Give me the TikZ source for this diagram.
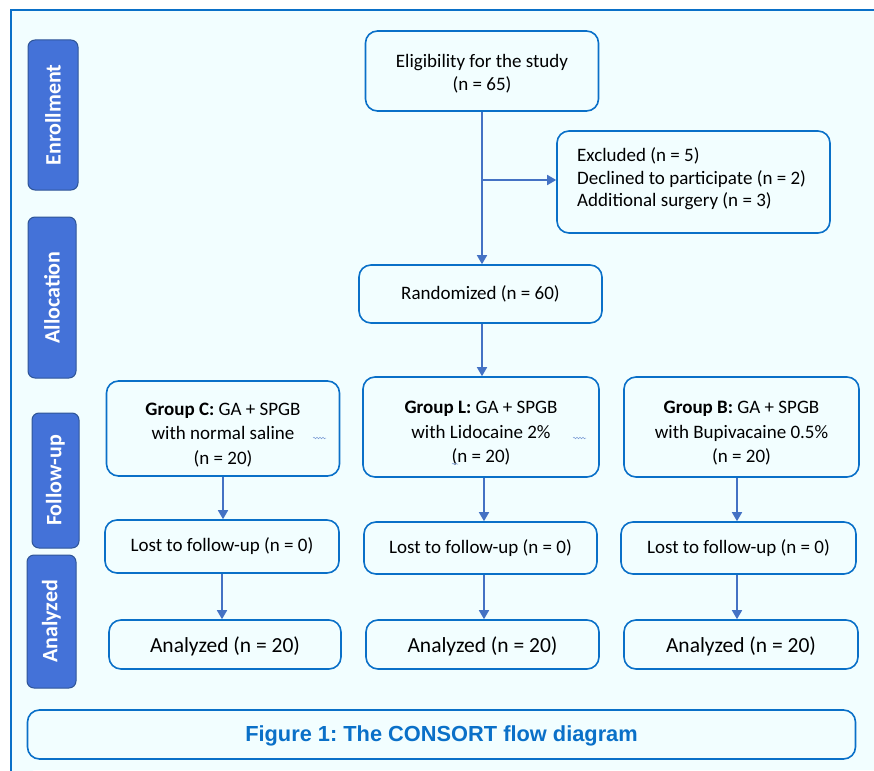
\documentclass[tikz,border=0pt]{standalone}
\usepackage{fontspec}
\setmainfont{Carlito}
\newfontfamily\capfont{Liberation Sans}
\usetikzlibrary{arrows.meta,decorations.pathmorphing}
\definecolor{bgc}{HTML}{F2FEFF}
\definecolor{frame}{HTML}{0A70C8}
\definecolor{boxc}{HTML}{0A70C8}
\definecolor{arr}{HTML}{4472C4}
\definecolor{side}{HTML}{4472D8}
\definecolor{sideb}{HTML}{2F5597}
\newcommand\mynudge[1]{\rule{0pt}{#1}}
\begin{document}
\begin{tikzpicture}[x=1pt,y=-1pt,
  box/.style={draw=boxc,line width=1.6pt,rounded corners=12pt,fill=bgc,align=center,inner sep=0pt,font=\fontsize{19}{23}\selectfont},
  sidebox/.style={draw=sideb,line width=1pt,rounded corners=7pt,fill=side,inner sep=0pt},
  sidetext/.style={rotate=90,text=white,font=\bfseries\fontsize{22}{24}\selectfont},
  conn/.style={draw=arr,line width=1.6pt,-{Triangle[length=9pt,width=10pt]}},
  wav/.style={draw=arr!70,line width=0.5pt,decorate,decoration={snake,amplitude=0.8pt,segment length=3pt}}]
\frenchspacing
\useasboundingbox (0,0) rectangle (874,770);
\fill[white] (0,0) rectangle (874,770);
\filldraw[fill=bgc,draw=frame,line width=2pt] (11,790) -- (11,10) -- (890,10);
\fill[bgc] (12,11) rectangle (874,770);
% side labels
\node[sidebox,minimum width=50pt,minimum height=150pt] (s1) at (53,115) {};
\node[sidetext] (s1t) at (s1.center) {Enrollment};
\node[sidebox,minimum width=48pt,minimum height=161pt] (s2) at (52,297.5) {};
\node[sidetext] (s2t) at (s2.center) {Allocation};
\node[sidebox,minimum width=47pt,minimum height=135pt] (s3) at (55.5,480.5) {};
\node[sidetext] (s3t) at (s3.center) {Follow-up};
\node[sidebox,minimum width=49pt,minimum height=133pt] (s4) at (51.5,621.5) {};
\node[sidetext] (s4t) at (s4.center) {Analyzed};
% main boxes
\node[box,minimum width=233pt,minimum height=80pt] (elig) at (482,71) {\mynudge{19pt}Eligibility for the study\\(n = 65)};
\node[box,minimum width=273pt,minimum height=102pt] (excl) at (693.5,182) {};
\node[align=left,anchor=west,inner sep=0pt,font=\fontsize{19}{22.5}\selectfont] (exclt) at (577,179) {Excluded (n = 5)\\Declined to participate (n = 2)\\Additional surgery (n = 3)};
\node[box,minimum width=243pt,minimum height=58pt] (rand) at (480.5,294) {Randomized (n = 60)};
\node[box,minimum width=233pt,minimum height=95pt,font=\fontsize{19}{24.5}\selectfont] (gc) at (223,428.5) {\mynudge{25pt}\textbf{Group C:} GA + SPGB\\with normal saline\\(n = 20)};
\node[box,minimum width=236pt,minimum height=100pt,font=\fontsize{19}{24.5}\selectfont] (gl) at (481,427) {\mynudge{25pt}\textbf{Group L:} GA + SPGB\\with Lidocaine 2\%\\(n = 20)};
\node[box,minimum width=235pt,minimum height=100pt,font=\fontsize{19}{24.5}\selectfont] (gb) at (741.5,427) {\mynudge{25pt}\textbf{Group B:} GA + SPGB\\with Bupivacaine 0.5\%\\(n = 20)};
\node[box,minimum width=234pt,minimum height=53pt] (lc) at (222,546.5) {Lost to follow-up (n = 0)};
\node[box,minimum width=233pt,minimum height=52pt] (ll) at (480.5,548) {Lost to follow-up (n = 0)};
\node[box,minimum width=235pt,minimum height=52pt] (lb) at (738.5,548) {Lost to follow-up (n = 0)};
\node[box,minimum width=232pt,minimum height=49pt,font=\fontsize{21.5}{24}\selectfont] (ac) at (225,644.5) {\mynudge{19pt}Analyzed (n = 20)};
\node[box,minimum width=233pt,minimum height=49pt,font=\fontsize{21.5}{24}\selectfont] (al) at (482.5,644.5) {\mynudge{19pt}Analyzed (n = 20)};
\node[box,minimum width=234pt,minimum height=49pt,font=\fontsize{21.5}{24}\selectfont] (ab) at (741,644.5) {\mynudge{19pt}Analyzed (n = 20)};
\node[box,minimum width=828pt,minimum height=49pt,text=boxc,font=\capfont\bfseries\fontsize{21.8}{24}\selectfont] (cap) at (441.5,734.5) {\mynudge{19pt}Figure 1: The CONSORT flow diagram};
% connectors
\coordinate (br) at (482,180);
\draw[conn] (elig.south) -- (rand.north -| elig.south);
\draw[conn] (br) -- (br -| excl.west);
\draw[conn] (rand.south -| elig.south) -- (gl.north -| elig.south);
\draw[conn] (gc.south) -- (lc.north -| gc.south);
\draw[conn] (lc.south) -- (ac.north -| lc.south);
\coordinate (xl) at (484,0);
\draw[conn] (gl.south -| xl) -- (ll.north -| xl);
\draw[conn] (ll.south -| xl) -- (al.north -| xl);
\coordinate (xb) at (737,0);
\draw[conn] (gb.south -| xb) -- (lb.north -| xb);
\draw[conn] (lb.south -| xb) -- (ab.north -| xb);
% spell-check squiggles
\coordinate (w1) at (313,438); \coordinate (w1e) at (326,438);
\coordinate (w2) at (573,438); \coordinate (w2e) at (586,438);
\coordinate (w3) at (452,464); \coordinate (w3e) at (458,464);
\draw[wav] (w1) -- (w1e);
\draw[wav] (w2) -- (w2e);
\draw[wav] (w3) -- (w3e);
\end{tikzpicture}
\end{document}
